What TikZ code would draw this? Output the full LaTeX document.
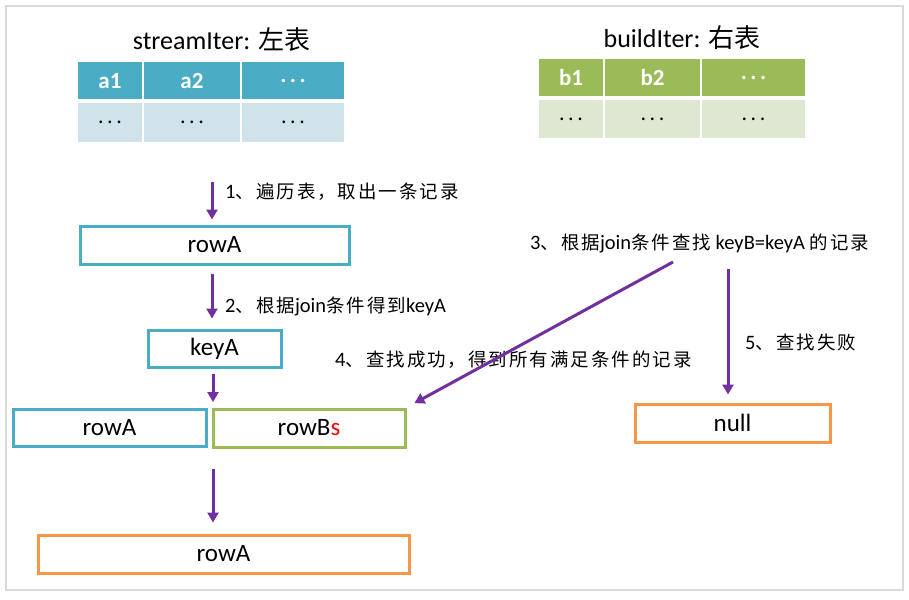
\documentclass[tikz,border=0pt]{standalone}
\usepackage{fontspec}
\setmainfont{Carlito}
\newfontfamily\cjk[Scale=0.9,LetterSpace=11]{Noto Sans CJK SC}
\newfontfamily\cjktitle{Noto Sans CJK SC}
\usetikzlibrary{arrows.meta}
\definecolor{teal}{HTML}{4BACC6}
\definecolor{tealbody}{HTML}{D0E3EA}
\definecolor{grn}{HTML}{9BBB59}
\definecolor{grnbody}{HTML}{DEE7D1}
\definecolor{orng}{HTML}{F79646}
\definecolor{purp}{HTML}{7030A0}
\definecolor{frame}{HTML}{D9D9D9}
\newcommand\mydots{.\kern3.5pt.\kern3.5pt.}
\tikzset{
  box/.style={draw, line width=3pt, rectangle, inner sep=0pt, font=\fontsize{25}{29}\selectfont},
  tealbox/.style={box, draw=teal},
  grnbox/.style={box, draw=grn},
  orgbox/.style={box, draw=orng},
  flow/.style={draw=purp, line width=3pt, -{Triangle[length=10pt,width=11pt]}},
  lbl/.style={anchor=west, inner sep=0pt, font=\fontsize{20.5}{24}\selectfont},
  title/.style={inner sep=0pt, font=\fontsize{26}{30}\selectfont},
  hcell/.style={draw=white, line width=2pt, rectangle, inner sep=0pt, text=white, font=\fontsize{23}{27}\selectfont\bfseries},
  bcell/.style={draw=white, line width=2pt, rectangle, inner sep=0pt, font=\fontsize{22}{26}\selectfont},
}
\begin{document}
\begin{tikzpicture}[x=1pt,y=-1pt]
\useasboundingbox (0,0) rectangle (909,599);
\draw[frame, line width=2pt] (6,6) rectangle (903,590);

% titles
\node[title] (t1) at (221.5,40) {streamIter: {\cjktitle 左表}};
\node[title] (t2) at (682,38) {buildIter: {\cjktitle 右表}};

% left table
\node[hcell, fill=teal, minimum width=66pt, minimum height=39pt] (a1) at (110,81) {a1};
\node[hcell, fill=teal, minimum width=98pt, minimum height=39pt] (a2) at (192,81) {a2};
\node[hcell, fill=teal, minimum width=104pt, minimum height=39pt] (a3) at (293,81) {\mydots};
\node[bcell, fill=tealbody, minimum width=66pt, minimum height=41pt] (a4) at (110,122.5) {\mydots};
\node[bcell, fill=tealbody, minimum width=98pt, minimum height=41pt] (a5) at (192,122.5) {\mydots};
\node[bcell, fill=tealbody, minimum width=104pt, minimum height=41pt] (a6) at (293,122.5) {\mydots};

% right table
\node[hcell, fill=grn, minimum width=66pt, minimum height=39pt] (b1) at (571,78) {b1};
\node[hcell, fill=grn, minimum width=97pt, minimum height=39pt] (b2) at (652.5,78) {b2};
\node[hcell, fill=grn, minimum width=105pt, minimum height=39pt] (b3) at (753.5,78) {\mydots};
\node[bcell, fill=grnbody, minimum width=66pt, minimum height=40pt] (b4) at (571,119) {\mydots};
\node[bcell, fill=grnbody, minimum width=97pt, minimum height=40pt] (b5) at (652.5,119) {\mydots};
\node[bcell, fill=grnbody, minimum width=105pt, minimum height=40pt] (b6) at (753.5,119) {\mydots};

% boxes
\node[tealbox, minimum width=269pt, minimum height=38pt] (rowA1) at (214.5,245) {rowA};
\node[tealbox, minimum width=133pt, minimum height=37pt] (keyA) at (214.5,348.5) {keyA};
\node[tealbox, minimum width=193pt, minimum height=37pt] (rowA2) at (109.5,427.5) {rowA};
\node[grnbox, minimum width=192pt, minimum height=38pt] (rowBs) at (309,428) {rowB\textcolor{red}{s}};
\node[orgbox, minimum width=371pt, minimum height=38pt] (rowA3) at (223.5,554) {rowA};
\node[orgbox, minimum width=195pt, minimum height=38pt] (null) at (732.5,423) {null};

% labels
\node[lbl] (l1) at (225,192) {1{\cjk 、遍历表，取出一条记录}};
\node[lbl] (l2) at (225,306) {2{\cjk 、根据}join{\cjk 条件得到}keyA};
\node[lbl] (l3) at (530,243) {3{\cjk 、根据}join{\cjk 条件查找} keyB=keyA {\cjk 的记录}};
\node[lbl] (l4) at (335,360) {4{\cjk 、查找成功，得到所有满足条件的记录}};
\node[lbl] (l5) at (745,342) {5{\cjk 、查找失败}};

% coordinates
\coordinate (s1) at (212,182);
\coordinate (j1) at (213,409);
\coordinate (j2) at (213,447);
\coordinate (s3) at (673,262);
\coordinate (s5) at (728,269);

% arrows
\draw[flow, shorten >=5pt] (s1) -- (s1 |- rowA1.north);
\draw[flow, shorten <=8pt, shorten >=10pt] (rowA1.south -| s1) -- (keyA.north -| s1);
\draw[flow, shorten <=5pt, shorten >=7pt] (keyA.south -| j1) -- (j1);
\draw[flow, shorten <=22pt, shorten >=11pt] (j2) -- (j2 |- rowA3.north);
\draw[flow, shorten >=9pt] (s3) -- (rowBs.north east);
\draw[flow, shorten >=8pt] (s5) -- (s5 |- null.north);
\end{tikzpicture}
\end{document}
